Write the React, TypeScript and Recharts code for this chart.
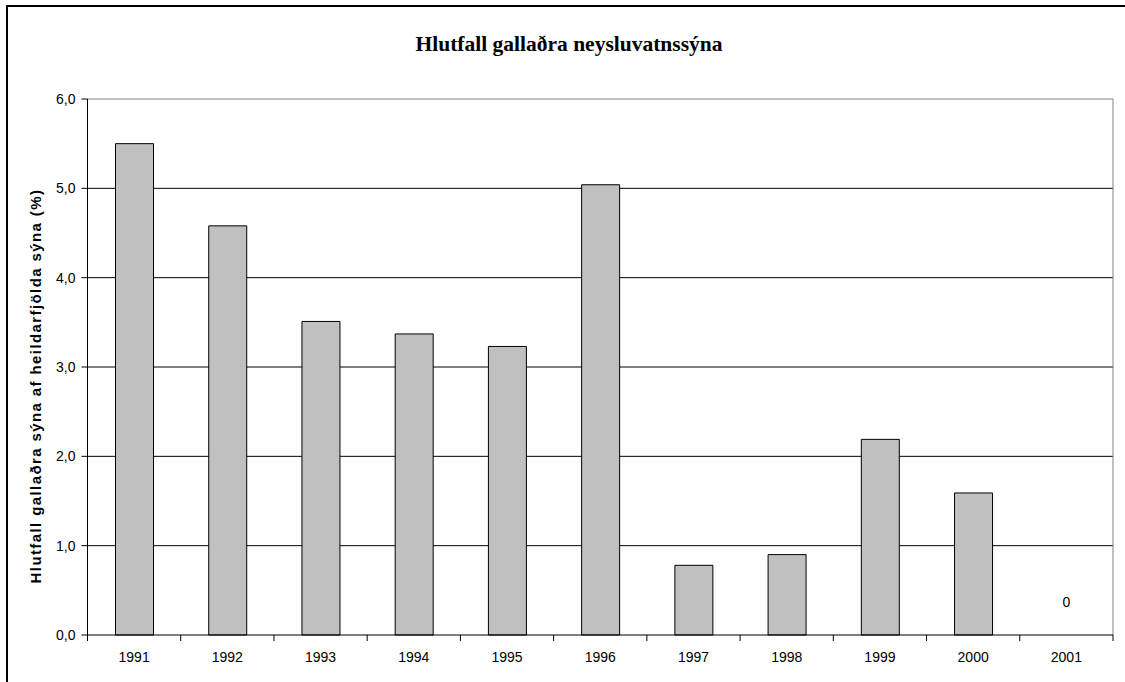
import React from 'react';
import {
  BarChart,
  Bar,
  XAxis,
  YAxis,
  CartesianGrid,
  ReferenceLine,
  ReferenceDot,
} from 'recharts';

// Survey years and share of faulty drinking-water samples (%)
const years = ['1991', '1992', '1993', '1994', '1995', '1996', '1997', '1998', '1999', '2000', '2001'];
const faultyShare = [5.5, 4.58, 3.51, 3.37, 3.23, 5.04, 0.78, 0.9, 2.19, 1.59, 0];
const yTicks = [0, 1, 2, 3, 4, 5, 6];
const gridValues = [1, 2, 3, 4, 5];

const chartTitle = 'Hlutfall gallaðra neysluvatnssýna';
const yAxisTitle = 'Hlutfall gallaðra sýna af heildarfjölda sýna (%)';

const data = years.map((year, i) => ({ year, value: faultyShare[i] }));
// Zero-valued years get their value written above the (empty) bar slot
const zeroYears = data.filter((d) => d.value === 0);

const W = 1125;
const H = 682;
const SANS = '"Liberation Sans", Arial, sans-serif';
const SERIF = '"Liberation Serif", "Times New Roman", serif';

const fmt = (v: number) => v.toFixed(1).replace('.', ',');

// Category tick: label in the middle of the band, tick marks on the band edges
const YearTick = (props: any) => {
  const { x, payload, index, visibleTicksCount } = props;
  const half = payload && payload.offset ? payload.offset : 46.6;
  const axisY = 635;
  const isLast = index === (visibleTicksCount ?? years.length) - 1;
  return (
    <g>
      <line x1={x - half} x2={x - half} y1={axisY} y2={axisY + 6} stroke="#000" strokeWidth={1} />
      {isLast && (
        <line x1={x + half} x2={x + half} y1={axisY} y2={axisY + 6} stroke="#000" strokeWidth={1} />
      )}
      <text x={x} y={axisY + 27} textAnchor="middle" fontFamily={SANS} fontSize={14} fill="#000">
        {payload.value}
      </text>
    </g>
  );
};

const zeroLabelShape = (value: number) => (p: any) => (
  <text
    x={p.cx}
    y={p.cy - 28}
    textAnchor="middle"
    fontFamily={SANS}
    fontSize={14}
    fill="#000"
  >
    {String(value)}
  </text>
);

export default function App() {
  return (
    <div
      style={{
        position: 'absolute',
        left: 0,
        top: 0,
        width: W,
        height: H,
        overflow: 'hidden',
        background: '#fff',
      }}
    >
      <div
        style={{
          position: 'absolute',
          left: 6,
          top: 5,
          width: W + 40,
          height: H + 40,
          border: '2px solid #000',
          boxSizing: 'border-box',
        }}
      />
      <div
        style={{
          position: 'absolute',
          left: 0,
          width: W,
          top: 31,
          textAlign: 'center',
          fontFamily: SERIF,
          fontWeight: 'bold',
          fontSize: 21.5,
          lineHeight: '26px',
          color: '#000',
          paddingLeft: 13,
          boxSizing: 'border-box',
        }}
      >
        {chartTitle}
      </div>
      <div style={{ position: 'absolute', left: 0, top: 0 }}>
        <BarChart
          width={W}
          height={H}
          data={data}
          margin={{ top: 99, right: 12, bottom: 17, left: 0 }}
          barSize={38}
        >
          <CartesianGrid
            vertical={false}
            horizontalValues={gridValues}
            stroke="#000"
            strokeWidth={1}
            fill="none"
          />
          {/* grey right-hand edge of the plot area */}
          <CartesianGrid
            horizontal={false}
            verticalCoordinatesGenerator={({ offset }: any) => [offset.left + offset.width]}
            stroke="#808080"
            strokeWidth={1}
            fill="none"
          />
          <ReferenceLine y={6} stroke="#808080" strokeWidth={1} />
          <XAxis
            dataKey="year"
            height={30}
            axisLine={{ stroke: '#000', strokeWidth: 1 }}
            tickLine={false}
            tick={<YearTick />}
            interval={0}
          />
          <YAxis
            width={87.5}
            domain={[0, 6]}
            ticks={yTicks}
            tickFormatter={fmt}
            axisLine={{ stroke: '#000', strokeWidth: 1 }}
            tickLine={{ stroke: '#000', strokeWidth: 1 }}
            tickSize={6}
            tickMargin={6}
            tick={{ fontFamily: SANS, fontSize: 14, fill: '#000' }}
            label={{
              value: yAxisTitle,
              content: () => (
                <text
                  x={41}
                  y={386}
                  transform="rotate(-90, 41, 386)"
                  textAnchor="middle"
                  fontFamily={SANS}
                  fontWeight="bold"
                  fontSize={15}
                  letterSpacing={1.4}
                  fill="#000"
                >
                  {yAxisTitle}
                </text>
              ),
            }}
          />
          <Bar
            dataKey="value"
            fill="#C0C0C0"
            stroke="#000"
            strokeWidth={1}
            isAnimationActive={false}
          />
          {zeroYears.map((d) => (
            <ReferenceDot
              key={d.year}
              x={d.year}
              y={d.value}
              r={0}
              shape={zeroLabelShape(d.value)}
            />
          ))}
        </BarChart>
      </div>
    </div>
  );
}
